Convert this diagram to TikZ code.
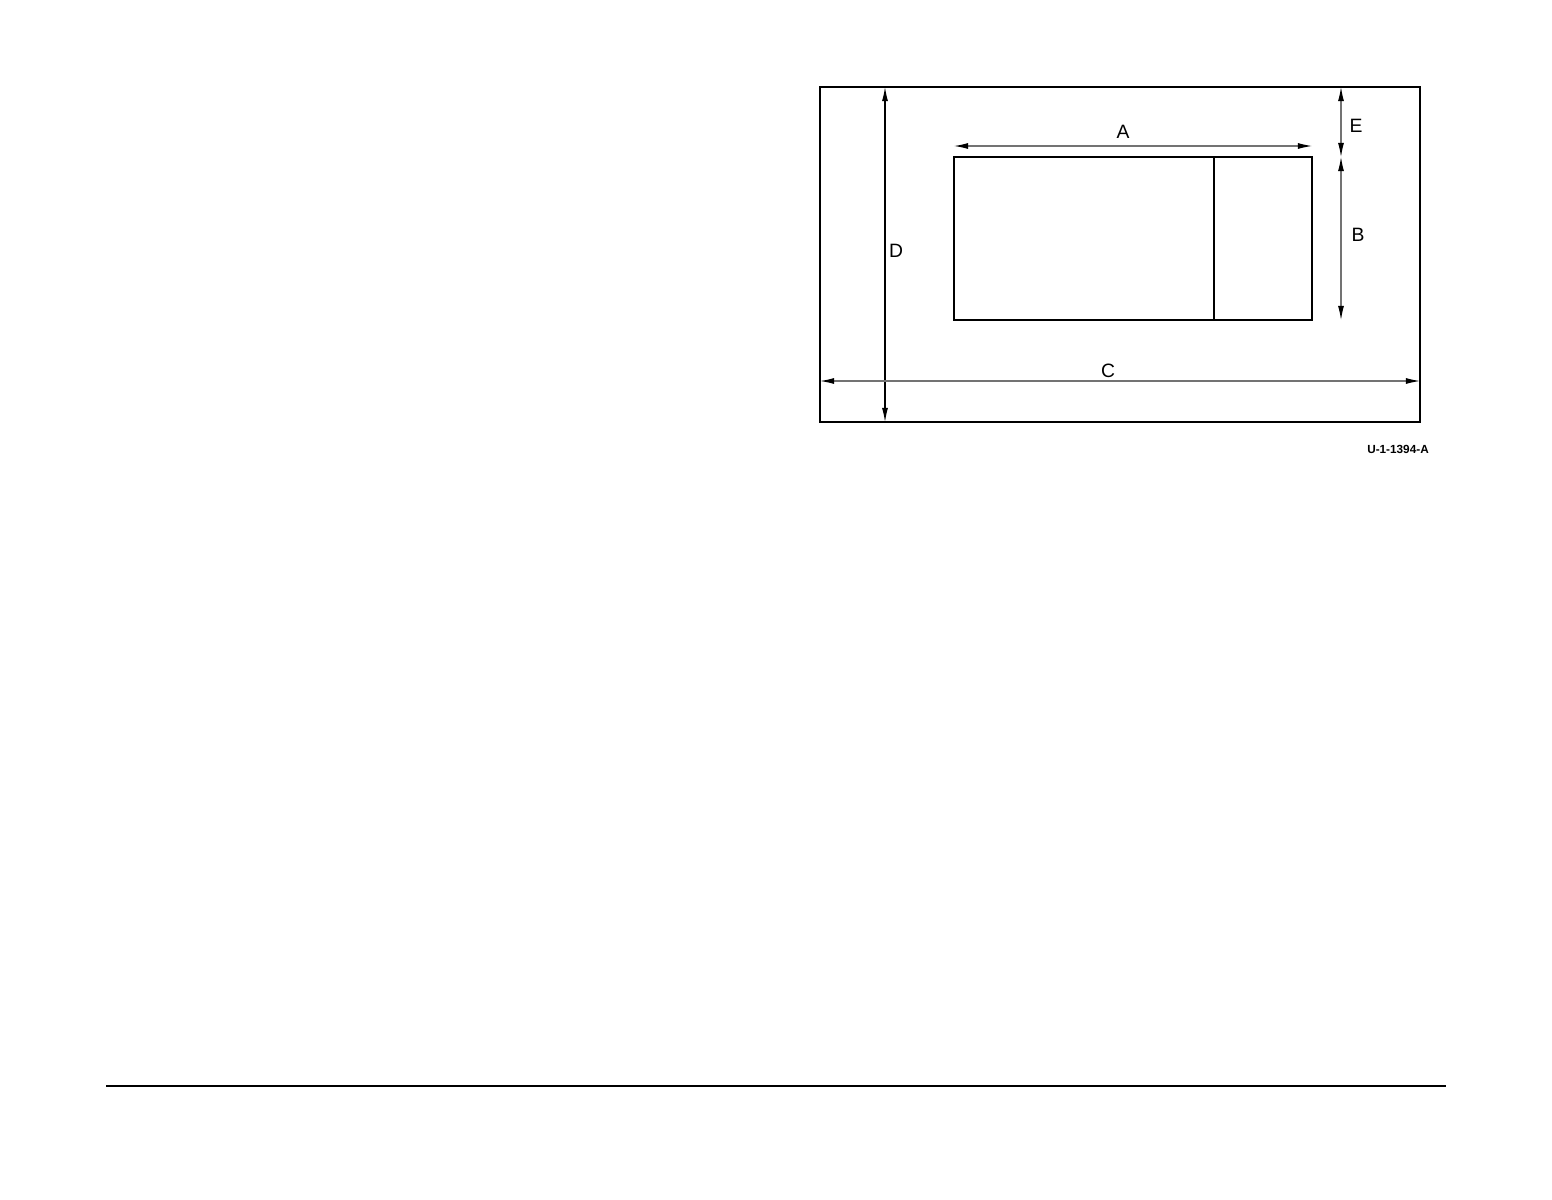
\documentclass[tikz,border=0pt]{standalone}
\usepackage{fontspec}
\setmainfont{Liberation Sans}
\usetikzlibrary{arrows.meta}
\tikzset{outline/.style={draw=black,line width=1.1pt},
	dimline/.style={draw=black!55,line width=0.6pt,
		{Latex[length=8pt,width=3.4pt,black]}-{Latex[length=8pt,width=3.4pt,black]}},
	dimlabel/.style={inner sep=0pt,font=\fontsize{11}{13}\selectfont},
	figid/.style={inner sep=0pt,font=\bfseries\fontsize{6.7}{8}\selectfont}}

\begin{document}
\begin{tikzpicture}[x=0.02cm,y=-0.02cm]
				      \useasboundingbox (0,0) rectangle (1552,1200);

				      \coordinate (oTL) at (820,87);
				      \coordinate (oBR) at (1420,422);
				      \coordinate (iTL) at (954,157);
				      \coordinate (iBR) at (1312,320);
				      \coordinate (sT) at (1214,157);
				      \coordinate (sB) at (1214,320);

				      \coordinate (dT) at (885,87);
				      \coordinate (dB) at (885,422);
				      \coordinate (cL) at (820,381);
				      \coordinate (cR) at (1420,381);
				      \coordinate (aL) at (954,146);
				      \coordinate (aR) at (1312,146);
				      \coordinate (eT) at (1341,87);
				      \coordinate (eB) at (1341,157);
				      \coordinate (bB) at (1341,320);

				      \draw[outline] (oTL) rectangle (oBR);
				      \draw[outline] (iTL) rectangle (iBR);
				      \draw[outline] (sT) -- (sB);

				      \path[dimline] (aL) -- (aR);
				      \path[dimline] (eT) -- (eB);
				      \path[dimline] (eB) -- (bB);
				      \path[dimline,draw=black] (dT) -- (dB);
				      \path[dimline] (cL) -- (cR);

				      \node[dimlabel] (A) at (1123,132) {A};
				      \node[dimlabel] (E) at (1356,126) {E};
				      \node[dimlabel] (B) at (1358,235) {B};
				      \node[dimlabel] (D) at (896,251) {D};
				      \node[dimlabel] (C) at (1108,371) {C};
				      \node[figid] (id) at (1398,449) {U-1-1394-A};

				      \coordinate (rL) at (106,1086);
				      \coordinate (rR) at (1446,1086);
				      \draw[line width=1pt] (rL) -- (rR);
			      \end{tikzpicture}
\end{document}
